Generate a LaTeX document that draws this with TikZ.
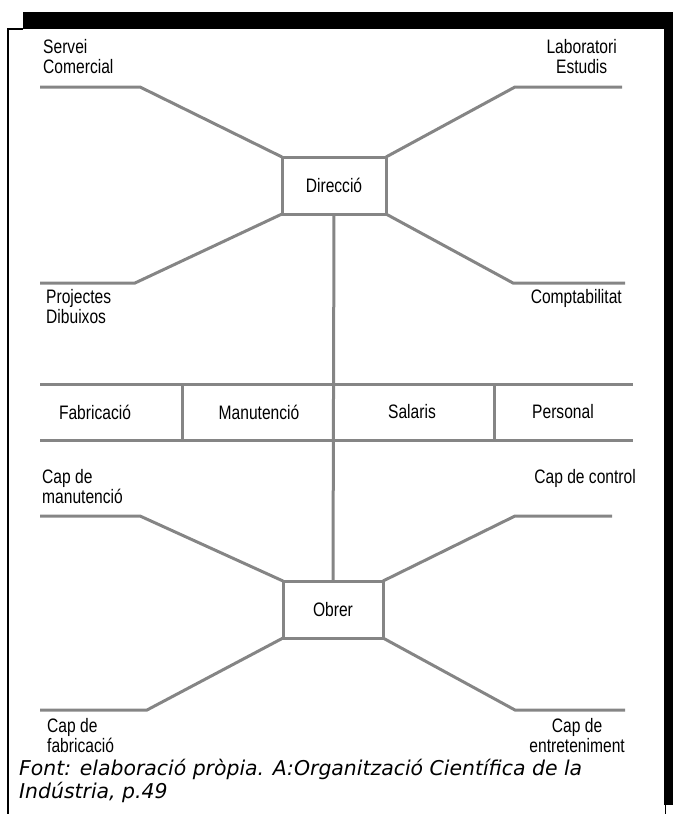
\documentclass[tikz,border=0pt]{standalone}
\usepackage{fontspec}
\setmainfont{Liberation Sans}
\newfontfamily\labfont[FakeStretch=0.8]{Liberation Sans}
\newfontfamily\capfont[ItalicFont={DejaVu Sans Oblique}]{DejaVu Sans}
\newcommand\labtxt{\labfont\fontsize{19.5}{20}\selectfont}
\definecolor{linegray}{HTML}{858585}
\begin{document}
\begin{tikzpicture}[x=1pt,y=-1pt,
  gl/.style={draw=linegray, line width=3pt},
  box/.style={draw=linegray, line width=3pt, fill=white, outer sep=0pt, inner sep=0pt, font=\labtxt},
  cell/.style={outer sep=0pt, inner sep=0pt, minimum height=56pt},
  lab/.style={font=\labtxt, inner sep=0pt}]
\useasboundingbox (0,0) rectangle (673,814);
% frame
\fill[black] (23,12) rectangle (673,29);
\fill[black] (664,29) rectangle (673,805);
\draw[black, line width=1pt] (665,805) -- (665,814);
\draw[black, line width=2pt] (23,29) -- (8,29) -- (8,814);
% boxes
\node[box, minimum width=104pt, minimum height=57pt] (dir) at (334,185.5) {Direcció};
\node[box, minimum width=100pt, minimum height=57pt] (obr) at (333,609.5) {Obrer};
% department cells
\node[cell, minimum width=142pt] (fab) at (111,412) {};
\node[cell, minimum width=151pt] (man) at (257.5,412) {};
\node[cell, minimum width=161pt] (sal) at (413.5,412) {};
\node[cell, minimum width=139pt] (per) at (563.5,412) {};
\node[lab] (tfab) at (95,412) {Fabricació};
\node[lab] (tman) at (259,412) {Manutenció};
\node[lab] (tsal) at (412,412) {Salaris};
\node[lab] (tper) at (563,412) {Personal};
\draw[gl] (fab.north west) -- (per.north east);
\draw[gl] (fab.south west) -- (per.south east);
\draw[gl] (fab.north east) -- (fab.south east);
\draw[gl] (sal.north east) -- (sal.south east);
\draw[gl] (man.north east) -- (man.south east);
\draw[gl] (dir.south) -- (obr.north);
% bend points
\coordinate (sc1) at (40,87);  \coordinate (sc2) at (140,87);
\coordinate (lb1) at (622,87); \coordinate (lb2) at (515,87);
\coordinate (pj1) at (40,283); \coordinate (pj2) at (135,283);
\coordinate (cp1) at (625,283); \coordinate (cp2) at (513,283);
\coordinate (cm1) at (40,516); \coordinate (cm2) at (140,516);
\coordinate (cc1) at (612,516); \coordinate (cc2) at (515,516);
\coordinate (cf1) at (40,710); \coordinate (cf2) at (147,710);
\coordinate (ce1) at (625,710); \coordinate (ce2) at (515,710);
\draw[gl] (sc1) -- (sc2) -- (dir.north west);
\draw[gl] (lb1) -- (lb2) -- (dir.north east);
\draw[gl] (pj1) -- (pj2) -- (dir.south west);
\draw[gl] (cp1) -- (cp2) -- (dir.south east);
\draw[gl] (cm1) -- (cm2) -- (obr.north west);
\draw[gl] (cc1) -- (cc2) -- (obr.north east);
\draw[gl] (cf1) -- (cf2) -- (obr.south west);
\draw[gl] (ce1) -- (ce2) -- (obr.south east);
% labels
\node[lab, anchor=north west, align=left] (lserv) at (43,39) {Servei\\Comercial};
\node[lab, anchor=north east, align=center] (llab) at (617,39) {Laboratori\\Estudis};
\node[lab, anchor=north west, align=left] (lproj) at (46,289) {Projectes\\Dibuixos};
\node[lab, anchor=north east, align=right] (lcomp) at (622,289) {Comptabilitat};
\node[lab, anchor=north west, align=left] (lcman) at (42,469) {Cap de\\manutenció};
\node[lab, anchor=north east, align=right] (lcctl) at (636,469) {Cap de control};
\node[lab, anchor=north west, align=left] (lcfab) at (47,718) {Cap de\\fabricació};
\node[lab, anchor=north east, align=center] (lcent) at (625,718) {Cap de\\entreteniment};
% caption
\node[anchor=north west, align=left, inner sep=0pt, font=\capfont\itshape\fontsize{20.4}{23}\selectfont] (cap) at (19,759)
  {Font: elaboració pròpia. A:Organització Científica de la\\Indústria, p.49};
\end{tikzpicture}
\end{document}
